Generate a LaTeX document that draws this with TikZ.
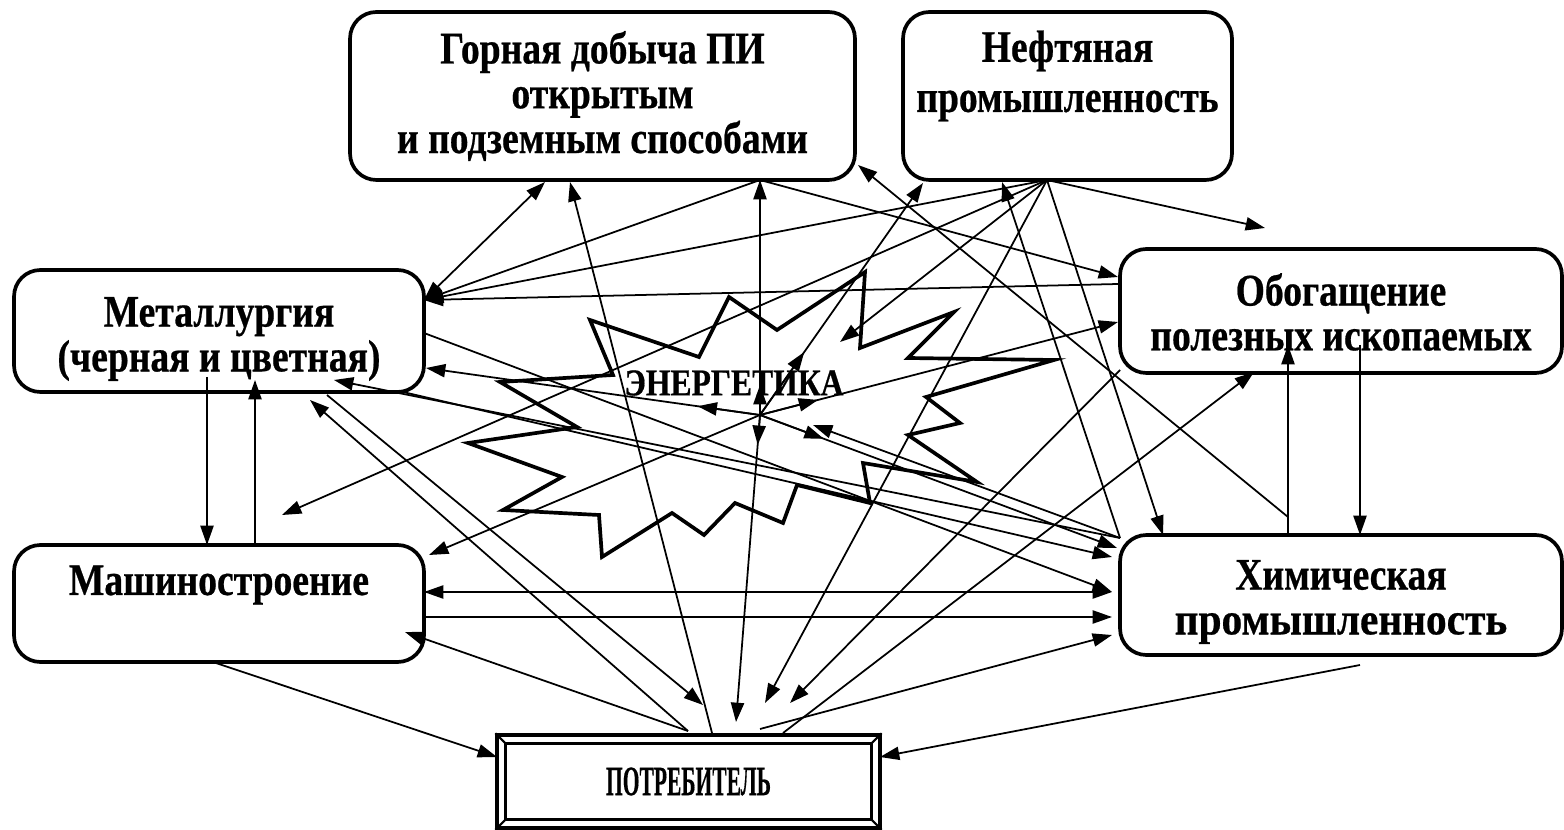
\documentclass[tikz,border=0pt]{standalone}
\usepackage{fontspec}
\setmainfont{Liberation Serif}[BoldFeatures={FakeBold=0.6}]
\usetikzlibrary{arrows.meta,calc}
% tall letters, as in the labels of the scheme
\newcommand\vtxt[2][1]{\scalebox{#1}[1.2]{#2}}
\begin{document}
\begin{tikzpicture}[x=0.02cm,y=-0.02cm,
  >={Triangle[length=11pt,width=7.5pt]},
  box/.style={draw,line width=2.1pt,rounded corners=15pt,inner sep=0pt},
  lbl/.style={align=center,inner sep=0pt,font=\bfseries\fontsize{21.4}{25.5}\selectfont},
  link/.style={line width=1pt},
  star/.style={line width=2.1pt,line join=miter}]
\useasboundingbox (0,0) rectangle (1564,830);

% industry boxes
\node[box,minimum width=10.1cm,minimum height=3.36cm] (G) at (602.5,96) {};
\node[lbl] (Gt) at (602.5,96)
  {\vtxt{Горная добыча ПИ}\\\vtxt{открытым}\\\vtxt{и подземным способами}};
\node[box,minimum width=6.58cm,minimum height=3.36cm] (N) at (1067.5,96) {};
\node[lbl,font=\bfseries\fontsize{21.4}{28.5}\selectfont] (Nt) at (1067.5,76)
  {\vtxt{Нефтяная}\\\vtxt{промышленность}};
\node[box,minimum width=8.84cm,minimum height=2.48cm] (O) at (1341,311) {};
\node[lbl] (Ot) at (1341,312) {\vtxt{Обогащение}\\\vtxt{полезных ископаемых}};
\node[box,minimum width=8.2cm,minimum height=2.44cm] (M) at (219,331) {};
\node[lbl] (Mt) at (219,339) {\vtxt{Металлургия}\\\vtxt{(черная и цветная)}};
\node[box,minimum width=8.2cm,minimum height=2.34cm] (A) at (219,603.5) {};
\node[lbl] (At) at (219,585) {\vtxt{Машиностроение}};
\node[box,minimum width=8.84cm,minimum height=2.4cm] (K) at (1341,595) {};
\node[lbl] (Kt) at (1341,602) {\vtxt{Химическая}\\\vtxt[1.1]{промышленность}};

% consumer: bevelled double frame
\node[draw,line width=1.9pt,minimum width=7.66cm,minimum height=1.86cm,
  font=\bfseries\fontsize{17}{20}\selectfont] (P) at (688.5,781.5)
  {\scalebox{0.72}[1.4]{ПОТРЕБИТЕЛЬ}};
\draw[line width=1.9pt] ($(P.north west)+(10,10)$) rectangle ($(P.south east)+(-10,-10)$);
\draw[line width=1.2pt] (P.north west) -- ++(10,10) (P.north east) -- ++(-10,10)
  (P.south west) -- ++(10,-10) (P.south east) -- ++(-10,-10);

% energy burst
\draw[star] (590,320) -- (699,357) -- (729,297) -- (777,330) -- (865,272) -- (860,348)
  -- (954,312) -- (908,358) -- (1054,360) -- (926,397) -- (960,423) -- (908,435)
  -- (977,482) -- (863,463) -- (870,503) -- (797,485) -- (783,523) -- (735,503)
  -- (704,535) -- (672,513) -- (602,557) -- (599,515) -- (503,510) -- (562,477)
  -- (468,443) -- (577,427) -- (500,382) -- (613,375) -- cycle;
\node[font=\bfseries\fontsize{18}{20}\selectfont,inner sep=0pt] (E) at (734,383)
  {\vtxt{ЭНЕРГЕТИКА}};
\coordinate (eH) at (760,415);

% ports on the boxes
\coordinate (mA) at (424,300);  \coordinate (mR) at (424,333);
\coordinate (mE) at (426,368);  \coordinate (mC) at (403,392);
\coordinate (mK) at (334,380);  \coordinate (mP) at (310,400);
\coordinate (mQ) at (327,395);  \coordinate (mD) at (207,377);
\coordinate (mU) at (255,380);
\coordinate (aE) at (429,555);  \coordinate (aD) at (424,592);
\coordinate (aF) at (424,617);  \coordinate (aP) at (405,632);
\coordinate (aB) at (213,662);  \coordinate (aT1) at (207,545);
\coordinate (aT2) at (255,545);
\coordinate (gA) at (545,182);  \coordinate (gB) at (570,182);
\coordinate (gH) at (760,180);  \coordinate (gR) at (858,165);
\coordinate (nL) at (923,183);  \coordinate (nK) at (1002,182);
\coordinate (nH) at (1047,180);
\coordinate (oT) at (1118,277); \coordinate (oM) at (1118,284);
\coordinate (oE) at (1118,322); \coordinate (oC) at (1120,370);
\coordinate (oP) at (1254,372); \coordinate (oU) at (1288,345);
\coordinate (oD) at (1360,345);
\coordinate (kC) at (1120,538); \coordinate (kH) at (1117,548);
\coordinate (kM) at (1112,557); \coordinate (kD) at (1112,592);
\coordinate (kF) at (1112,617); \coordinate (kP) at (1112,635);
\coordinate (kN) at (1163,535); \coordinate (kU) at (1288,535);
\coordinate (kV) at (1360,535); \coordinate (kB) at (1360,665);
\coordinate (kG) at (1288,517);
\coordinate (pL) at (497,757);  \coordinate (pR) at (880,757);
\coordinate (p1) at (688,731);  \coordinate (p2) at (703,705);
\coordinate (p3) at (712,733);  \coordinate (p4) at (736,722);
\coordinate (p5) at (765,703);  \coordinate (p6) at (790,703);
\coordinate (p7) at (783,733);  \coordinate (p8) at (760,729);
\coordinate (fA) at (282,515);  \coordinate (fB) at (1265,228);
\coordinate (eK) at (813,425);  \coordinate (eN) at (840,342);

% links between industries
\draw[link,<->] (mA) -- (gA);
\draw[link,->] (gH) -- (mA);
\draw[link,->] (nH) -- (mA);
\draw[link,->] (oM) -- (mA);
\draw[link,->] (gH) -- (oT);
\draw[link,->] (nH) -- (fB);
\draw[link,->] (nH) -- (fA);
\draw[link,->] (nH) -- (kN);
\draw[link,->] (nH) -- (p5);
\draw[link,->] (nH) -- (eN);
\draw[link,->] (kC) -- (nK);
\draw[link,->] (kC) -- (eK);
\draw[link,->] (kC) -- (mK);
\draw[link,->] (kG) -- (gR);
\draw[link,->] (mR) -- (kD);
\draw[link,->] (mC) -- (kM);
\draw[link,<->] (aD) -- (kD);
\draw[link,->] (aF) -- (kF);
\draw[link,->] (p8) -- (kP);
\draw[link,->] (p7) -- (oP);
\draw[link,->] (oC) -- (p6);
\draw[link,->] (kB) -- (pR);
\draw[link,->] (aB) -- (pL);
\draw[link,->] (p1) -- (aP);
\draw[link,->] (p1) -- (mP);
\draw[link,->] (mQ) -- (p2);
\draw[link,->] (p3) -- (gB);
\draw[link,->] (mD) -- (aT1);
\draw[link,->] (aT2) -- (mU);
\draw[link,->] (kU) -- (oU);
\draw[link,->] (oD) -- (kV);

% energy supply from the centre, each with a near and a far head
\foreach \t/\d in {gH/0.6cm, p4/0.6cm, mE/1.26cm, nL/1.54cm, oE/1.2cm, kH/1.36cm}{
  \draw[link,->] (eH) -- (\t);
  \draw[link,->] (eH) -- ($(eH)!\d!(\t)$);
}
\draw[link,->] (eH) -- (aE);
\end{tikzpicture}
\end{document}
